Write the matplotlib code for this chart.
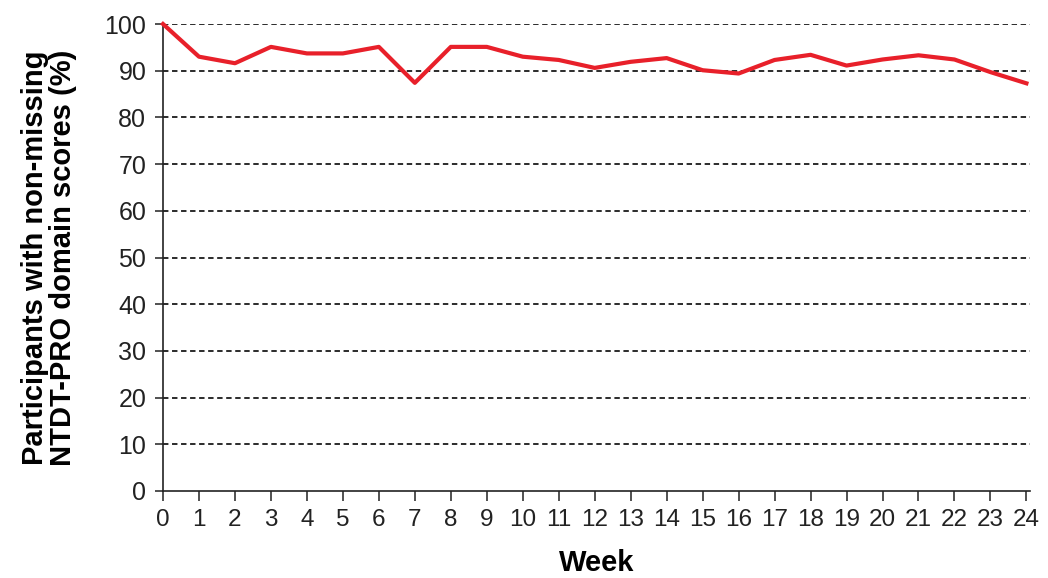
import matplotlib
matplotlib.use("Agg")
import matplotlib.pyplot as plt

# week-by-week share of participants with non-missing NTDT-PRO domain scores
weeks = list(range(0, 25))
pct = [100.0, 93.0, 91.6, 95.1, 93.7, 93.7, 95.1, 87.4, 95.1, 95.1, 93.0, 92.3,
       90.6, 91.9, 92.7, 90.1, 89.4, 92.3, 93.4, 91.1, 92.4, 93.3, 92.4, 89.7, 87.3]
yticks = list(range(0, 101, 10))

plt.rcParams["font.family"] = ["Liberation Sans", "DejaVu Sans"]

fig = plt.figure(figsize=(10.48, 5.78), dpi=100)
ax = fig.add_axes([163 / 1048, 1 - 491 / 578, (1030 - 163) / 1048, (491 - 24) / 578])

for y in yticks[1:]:
    ax.axhline(y, color="#1a1a1a", lw=1.3, ls=(0, (3.0, 2.0)), zorder=1)
ax.plot(weeks, pct, color="#e8202a", lw=3, zorder=3, clip_on=False)

ax.set_xlim(0, 24.1)
ax.set_ylim(0, 100)
ax.set_xticks(weeks)
ax.set_yticks(yticks)
ax.tick_params(axis="y", labelsize=18, length=6, width=1.1, colors="#222222", pad=6)
ax.tick_params(axis="x", labelsize=17.5, length=7, width=1.1, colors="#222222", pad=6)
for s in ["top", "right"]:
    ax.spines[s].set_visible(False)
for s in ["left", "bottom"]:
    ax.spines[s].set_linewidth(1.2)
    ax.spines[s].set_color("#222222")

ax.set_xlabel("Week", fontsize=21, fontweight="bold", labelpad=13)
ax.set_ylabel("Participants with non-missing\nNTDT-PRO domain scores (%)",
              fontsize=21, fontweight="bold", labelpad=20, linespacing=1.0)

fig.savefig("out.png", dpi=100)
